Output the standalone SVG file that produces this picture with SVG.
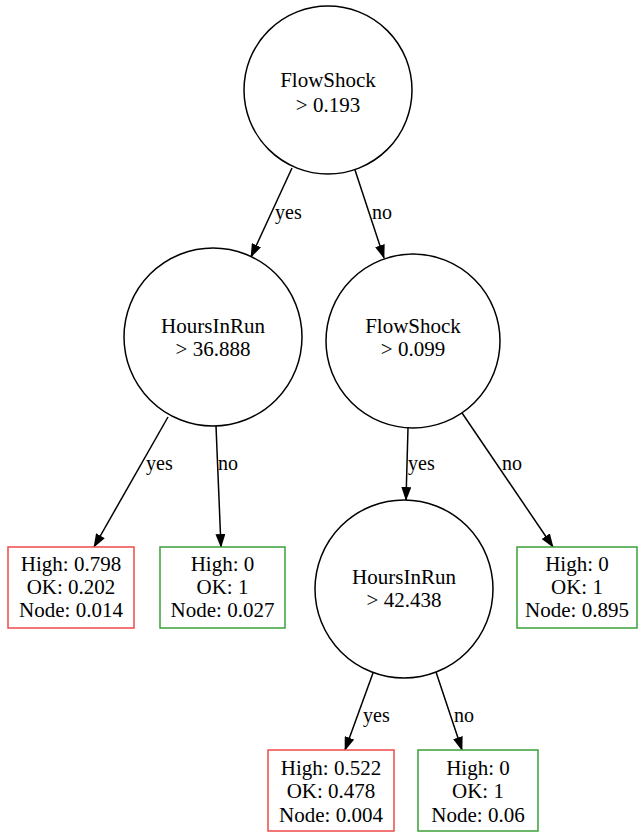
<svg xmlns="http://www.w3.org/2000/svg" width="639" height="834" viewBox="0 0 639 834">
<defs>
<marker id="arr" viewBox="0 0 14 10" refX="13" refY="5" markerWidth="14" markerHeight="10" markerUnits="userSpaceOnUse" orient="auto">
<path d="M0,0 L14,5 L0,10 z" fill="#000"/>
</marker>
<style>
.c{fill:#fff;stroke:#000;stroke-width:1.5}
.t{font-family:"Liberation Serif","DejaVu Serif",serif;font-size:21px;fill:#000;text-anchor:middle}
.l{font-family:"Liberation Serif","DejaVu Serif",serif;font-size:20px;fill:#000}
.e{stroke:#000;stroke-width:1.5;fill:none;marker-end:url(#arr)}
.r{fill:#fff;stroke:#f04a4a;stroke-width:1.5}
.g{fill:#fff;stroke:#3aa03a;stroke-width:1.5}
</style>
</defs>
<rect width="639" height="834" fill="#fff"/>
<g id="edges">
<line class="e" x1="292" y1="168" x2="251" y2="257"/>
<line class="e" x1="355" y1="170" x2="384" y2="258"/>
<line class="e" x1="168" y1="417" x2="94" y2="547"/>
<line class="e" x1="216" y1="426" x2="221" y2="547"/>
<line class="e" x1="408" y1="428" x2="406" y2="500"/>
<line class="e" x1="458" y1="407" x2="553" y2="547"/>
<line class="e" x1="373" y1="673" x2="345" y2="750"/>
<line class="e" x1="436" y1="672" x2="462" y2="750"/>
<text class="l" x="275" y="219">yes</text>
<text class="l" x="372" y="219">no</text>
<text class="l" x="146" y="470">yes</text>
<text class="l" x="218" y="470">no</text>
<text class="l" x="408" y="470">yes</text>
<text class="l" x="502" y="470">no</text>
<text class="l" x="363" y="722">yes</text>
<text class="l" x="454" y="722">no</text>
</g>
<g id="n0">
<circle class="c" cx="328" cy="90" r="84"/>
<text class="t" x="328" y="87">FlowShock</text>
<text class="t" x="328" y="112">&gt; 0.193</text>
</g>
<g id="n1">
<circle class="c" cx="213" cy="337" r="89"/>
<text class="t" x="213" y="333">HoursInRun</text>
<text class="t" x="213" y="356">&gt; 36.888</text>
</g>
<g id="n2">
<circle class="c" cx="413" cy="341" r="87"/>
<text class="t" x="413" y="333">FlowShock</text>
<text class="t" x="413" y="356">&gt; 0.099</text>
</g>
<g id="n3">
<circle class="c" cx="404" cy="589" r="89"/>
<text class="t" x="404" y="584">HoursInRun</text>
<text class="t" x="404" y="607">&gt; 42.438</text>
</g>
<g id="leaf1">
<rect class="r" x="8" y="547" width="126" height="81"/>
<text class="t" x="71" y="571">High: 0.798</text>
<text class="t" x="71" y="594">OK: 0.202</text>
<text class="t" x="71" y="617">Node: 0.014</text>
</g>
<g id="leaf2">
<rect class="g" x="160" y="547" width="125" height="81"/>
<text class="t" x="222.5" y="571">High: 0</text>
<text class="t" x="222.5" y="594">OK: 1</text>
<text class="t" x="222.5" y="617">Node: 0.027</text>
</g>
<g id="leaf3">
<rect class="g" x="517" y="547" width="120" height="81"/>
<text class="t" x="577" y="571">High: 0</text>
<text class="t" x="577" y="594">OK: 1</text>
<text class="t" x="577" y="617">Node: 0.895</text>
</g>
<g id="leaf4">
<rect class="r" x="268" y="750" width="126" height="81"/>
<text class="t" x="331" y="775">High: 0.522</text>
<text class="t" x="331" y="798">OK: 0.478</text>
<text class="t" x="331" y="822">Node: 0.004</text>
</g>
<g id="leaf5">
<rect class="g" x="418" y="750" width="120" height="81"/>
<text class="t" x="478" y="775">High: 0</text>
<text class="t" x="478" y="798">OK: 1</text>
<text class="t" x="478" y="822">Node: 0.06</text>
</g>
</svg>
